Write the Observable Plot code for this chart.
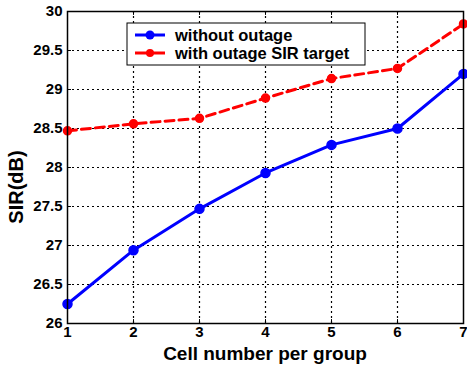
<!DOCTYPE html>
<html><head><meta charset="utf-8">
<script src="https://cdn.jsdelivr.net/npm/d3@7"></script>
<script src="https://cdn.jsdelivr.net/npm/@observablehq/plot@0.6"></script>
<style>body{margin:0;background:#fff;} svg{display:block;}</style>
</head><body><div id="chart"></div>
<script>
const cells = [1, 2, 3, 4, 5, 6, 7];
const withoutOutage = [26.25, 26.94, 27.47, 27.93, 28.29, 28.50, 29.20];
const withOutage = [28.47, 28.56, 28.63, 28.89, 29.14, 29.27, 29.84];
const xTicks = [1, 2, 3, 4, 5, 6, 7];
const yTicks = [26, 26.5, 27, 27.5, 28, 28.5, 29, 29.5, 30];
const seriesNames = ["without outage", "with outage SIR target"];
const colors = ["#0000ff", "#ff0000"];
const xLabel = "Cell number per group";
const yLabel = "SIR(dB)";

const dA = cells.map((c, i) => ({x: c, y: withoutOutage[i]}));
const dB = cells.map((c, i) => ({x: c, y: withOutage[i]}));
const font = "'Liberation Sans', Arial, sans-serif";

const plot = Plot.plot({
  width: 467, height: 369,
  marginLeft: 67, marginRight: 4, marginTop: 11, marginBottom: 46,
  style: {fontFamily: font, fontSize: "15px", fontWeight: "bold", background: "white", color: "black"},
  x: {domain: [1, 7], ticks: xTicks, label: null},
  y: {domain: [26, 30], ticks: yTicks, label: null},
  marks: [
    Plot.ruleX(xTicks.slice(1, -1), {x: d => d, stroke: "#000", strokeDasharray: "2,3", strokeWidth: 1.2}),
    Plot.ruleY(yTicks.slice(1, -1), {y: d => d, stroke: "#000", strokeDasharray: "2,3", strokeWidth: 1.2}),
    Plot.axisX({ticks: xTicks, tickSize: 0, tickPadding: 3, fontSize: 15, fontWeight: "bold", tickFormat: d => d}),
    Plot.axisY({ticks: yTicks, tickSize: 0, tickPadding: 5, fontSize: 15, fontWeight: "bold", tickFormat: d => String(d)}),
    Plot.ruleX(xTicks, {x: d => d, y1: 26, y2: 26.05, stroke: "#000"}),
    Plot.ruleX(xTicks, {x: d => d, y1: 29.95, y2: 30, stroke: "#000"}),
    Plot.ruleY(yTicks, {y: d => d, x1: 1, x2: 1.06, stroke: "#000"}),
    Plot.ruleY(yTicks, {y: d => d, x1: 6.94, x2: 7, stroke: "#000"}),
    Plot.line(dA, {x: "x", y: "y", stroke: colors[0], strokeWidth: 3}),
    Plot.dot(dA, {x: "x", y: "y", r: 4.5, fill: colors[0], stroke: colors[0]}),
    Plot.line(dB, {x: "x", y: "y", stroke: colors[1], strokeWidth: 3, strokeDasharray: "9,5"}),
    Plot.dot(dB, {x: "x", y: "y", r: 4, fill: colors[1], stroke: colors[1], strokeWidth: 1.5}),
    Plot.frame({stroke: "#000", strokeWidth: 1.5})
  ]
});

const svg = d3.select(plot);
// axis titles
svg.append("text").attr("x", 265).attr("y", 360).attr("text-anchor", "middle")
  .attr("font-family", font).attr("font-weight", "bold").attr("font-size", 19).text(xLabel);
svg.append("text").attr("transform", "translate(23,187) rotate(-90)").attr("text-anchor", "middle")
  .attr("font-family", font).attr("font-weight", "bold").attr("font-size", 20).text(yLabel);

// legend box (MATLAB-style) inside the plot area
const g = svg.append("g").attr("font-family", font).attr("font-weight", "bold").attr("font-size", 16.5).attr("text-anchor", "start");
const lx = 127, ly = 23, lw = 238, lh = 42;
g.append("rect").attr("x", lx).attr("y", ly).attr("width", lw).attr("height", lh)
  .attr("fill", "white").attr("stroke", "black").attr("stroke-width", 1);
seriesNames.forEach((name, i) => {
  const yy = ly + 12 + i * 18;
  g.append("line").attr("x1", lx + 8).attr("x2", lx + 38).attr("y1", yy).attr("y2", yy)
    .attr("stroke", colors[i]).attr("stroke-width", 3);
  g.append("circle").attr("cx", lx + 23).attr("cy", yy).attr("r", i === 0 ? 4.5 : 4).attr("fill", colors[i]);
  g.append("text").attr("x", lx + 48).attr("y", yy).attr("dy", "0.35em").text(name);
});

document.getElementById("chart").appendChild(plot);
</script></body></html>
